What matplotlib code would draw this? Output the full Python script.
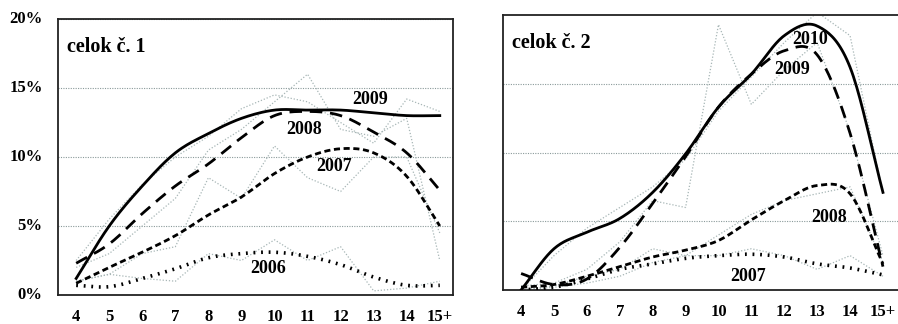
import numpy as np
import matplotlib
matplotlib.use("Agg")
import matplotlib.pyplot as plt

categories = ["4", "5", "6", "7", "8", "9", "10", "11", "12", "13", "14", "15+"]
yticks = [0, 5, 10, 15, 20]
ytick_labels = ["0%", "5%", "10%", "15%", "20%"]

# Panel 1 (celok č. 1) – trend curves
p1_2009 = [1.2, 5.0, 7.9, 10.3, 11.7, 12.8, 13.4, 13.4, 13.4, 13.2, 13.0, 13.0]
p1_2008 = [2.3, 3.7, 5.9, 7.9, 9.5, 11.4, 13.0, 13.3, 13.0, 11.8, 10.3, 7.6]
p1_2007 = [0.85, 2.0, 3.1, 4.3, 5.8, 7.1, 8.8, 10.0, 10.6, 10.3, 8.6, 5.0]
p1_2006 = [0.7, 0.6, 1.2, 1.9, 2.7, 3.0, 3.1, 2.8, 2.2, 1.3, 0.7, 0.7]
# Panel 1 raw data
p1_raw_2009 = [2.5, 5.5, 8.0, 10.0, 11.5, 13.5, 14.5, 14.0, 12.5, 11.0, 14.2, 13.3]
p1_raw_2008 = [2.0, 3.0, 5.0, 7.0, 10.5, 12.0, 14.0, 16.0, 12.0, 11.5, 12.8, 2.5]
p1_raw_2007 = [1.0, 1.5, 3.0, 3.5, 8.5, 7.0, 10.8, 8.5, 7.5, 10.0, 10.0, 4.5]
p1_raw_2006 = [1.0, 1.5, 1.2, 1.0, 3.0, 2.5, 4.0, 2.5, 3.5, 0.3, 0.5, 1.0]

# Panel 2 (celok č. 2) – trend curves
p2_2010 = [0.0, 3.0, 4.2, 5.2, 7.1, 9.9, 13.3, 15.7, 18.5, 19.2, 16.2, 7.1]
p2_2009 = [1.2, 0.4, 0.8, 3.1, 6.3, 9.7, 13.3, 15.7, 17.4, 17.1, 11.4, 1.7]
p2_2008 = [0.2, 0.4, 1.0, 1.7, 2.4, 2.9, 3.6, 5.1, 6.5, 7.6, 7.0, 1.9]
p2_2007 = [0.0, 0.2, 0.8, 1.5, 1.9, 2.3, 2.5, 2.6, 2.4, 1.9, 1.6, 1.1]
# Panel 2 raw data
p2_raw_2010 = [0.0, 2.5, 4.5, 6.0, 7.5, 9.5, 13.0, 15.5, 18.0, 20.2, 18.5, 7.0]
p2_raw_2009 = [0.3, 0.5, 1.5, 3.5, 6.5, 6.0, 19.3, 13.5, 16.0, 18.0, 11.5, 2.5]
p2_raw_2008 = [0.0, 0.3, 1.0, 1.5, 3.0, 2.5, 4.0, 5.5, 6.5, 7.0, 7.5, 2.0]
p2_raw_2007 = [0.0, 0.2, 0.5, 1.0, 2.0, 2.5, 2.5, 3.0, 2.5, 1.5, 2.5, 1.0]


def smooth(y, n=20):
    """Catmull-Rom spline through the points (for drawing smooth curves)."""
    y = np.asarray(y, float)
    x = np.arange(len(y), dtype=float)
    xp = np.concatenate([[x[0] - 1], x, [x[-1] + 1]])
    yp = np.concatenate([[2 * y[0] - y[1]], y, [2 * y[-1] - y[-2]]])
    xs, ys = [], []
    for i in range(1, len(xp) - 2):
        t = np.linspace(0, 1, n, endpoint=False)
        p0, p1, p2, p3 = yp[i - 1], yp[i], yp[i + 1], yp[i + 2]
        yy = 0.5 * ((2 * p1) + (-p0 + p2) * t + (2 * p0 - 5 * p1 + 4 * p2 - p3) * t ** 2
                    + (-p0 + 3 * p1 - 3 * p2 + p3) * t ** 3)
        xs.append(xp[i] + t)
        ys.append(yy)
    xs.append([x[-1]])
    ys.append([y[-1]])
    return np.concatenate(xs), np.concatenate(ys)


serif = ["Liberation Serif", "DejaVu Serif"]
plt.rcParams["font.family"] = serif

W, H = 898, 324
fig = plt.figure(figsize=(W / 100, H / 100), dpi=100)
ax1 = fig.add_axes([58 / W, (H - 295) / H, (453 - 58) / W, (295 - 19) / H])
ax2 = fig.add_axes([503 / W, (H - 290) / H, (905 - 503) / W, (290 - 15) / H])

raw_color = "#a7b6b6"


def draw_panel(ax, trends, raws, title, labels, xmax):
    x = np.arange(len(categories))
    for r in raws:
        ax.plot(x, r, color=raw_color, lw=0.9, ls=(0, (1, 1.5)), zorder=2)
    for y, style, w in trends:
        xs, ys = smooth(y)
        ax.plot(xs, ys, color="black", lw=w, ls=style, zorder=3)
    ax.set_xlim(-0.55, xmax)
    ax.set_ylim(0, 20)
    ax.set_yticks([5, 10, 15])
    ax.yaxis.grid(True, color="#8a9a9a", lw=0.8, ls=(0, (1, 1.2)))
    ax.set_axisbelow(True)
    ax.set_xticks(x)
    ax.set_xticklabels(categories, fontsize=12, fontweight="bold")
    ax.tick_params(axis="x", length=0, pad=10)
    ax.tick_params(axis="y", length=0)
    for s in ax.spines.values():
        s.set_linewidth(1.3)
        s.set_color("#222222")
    ax.text(0.022, 0.935, title, transform=ax.transAxes, fontsize=14.5,
            fontweight="bold", ha="left", va="top")
    for (tx, ty, t) in labels:
        ax.text(tx, ty, t, fontsize=13, fontweight="bold", ha="center", va="center")


draw_panel(ax1,
           [(p1_2009, "-", 2.0), (p1_2008, (0, (4.5, 2.8)), 2.0),
            (p1_2007, (0, (2.2, 1.3)), 2.0), (p1_2006, (0, (0.5, 1.6)), 2.6)],
           [p1_raw_2009, p1_raw_2008, p1_raw_2007, p1_raw_2006],
           "celok č. 1",
           [(8.9, 14.2, "2009"), (6.9, 12.0, "2008"), (7.8, 9.3, "2007"), (5.8, 1.9, "2006")],
           11.4)
ax1.set_yticks(yticks)
ax1.set_yticklabels(ytick_labels, fontsize=12, fontweight="bold", va="center")
ax1.tick_params(axis="y", pad=11)

draw_panel(ax2,
           [(p2_2010, "-", 2.0), (p2_2009, (0, (4.5, 2.8)), 2.0),
            (p2_2008, (0, (2.2, 1.3)), 2.0), (p2_2007, (0, (0.5, 1.6)), 2.6)],
           [p2_raw_2010, p2_raw_2009, p2_raw_2008, p2_raw_2007],
           "celok č. 2",
           [(8.8, 18.2, "2010"), (8.25, 16.0, "2009"), (9.35, 5.3, "2008"), (6.9, 1.0, "2007")],
           11.67)
ax2.set_yticks([5, 10, 15])
ax2.set_yticklabels([])

fig.savefig("out.png", dpi=100)
